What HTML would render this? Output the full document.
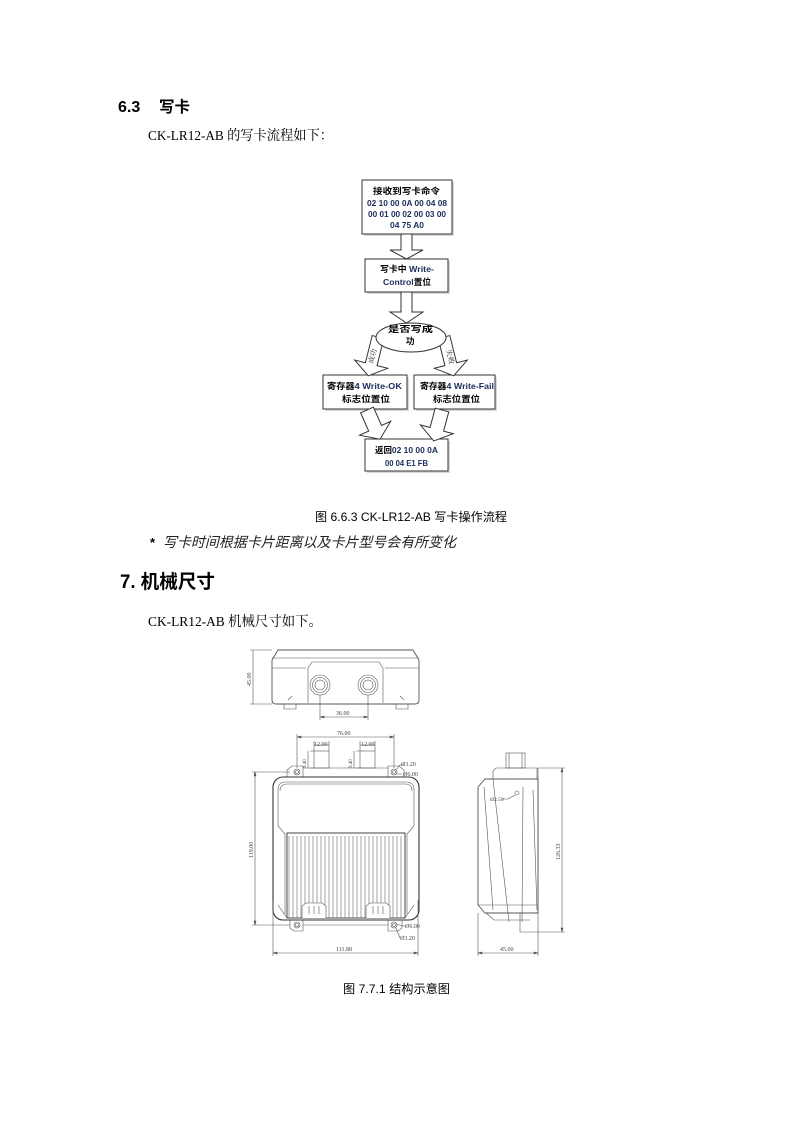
<!DOCTYPE html>
<html><head><meta charset="utf-8"><style>
html,body{margin:0;padding:0;background:#fff;}
svg{display:block;}
</style></head><body>
<svg width="793" height="1122" viewBox="0 0 793 1122" xmlns="http://www.w3.org/2000/svg" font-family="'Liberation Sans','Noto Sans CJK SC',sans-serif">
<!-- Page text -->
<text x="118" y="112" font-size="16" font-weight="bold" fill="#000">6.3</text>
<text x="159" y="112" font-size="15.5" font-weight="bold" fill="#000" textLength="31" lengthAdjust="spacingAndGlyphs">写卡</text>
<text x="148" y="140" font-size="14" fill="#000" font-family="'Liberation Serif','Noto Serif CJK SC',serif" textLength="185" lengthAdjust="spacingAndGlyphs">CK-LR12-AB 的写卡流程如下：</text>

<!-- Flowchart -->
<g stroke="#333" stroke-width="1" fill="#fff">
  <!-- shadows -->
  <g fill="#d8d8d8" stroke="none">
    <rect x="364" y="182" width="90" height="54"/>
    <rect x="367" y="261" width="83" height="33"/>
    <rect x="325" y="377" width="84" height="34"/>
    <rect x="416" y="377" width="81" height="34"/>
    <rect x="367" y="441" width="83" height="32"/>
  </g>
  <rect x="362" y="180" width="90" height="54"/>
  <rect x="365" y="259" width="83" height="33"/>
  <rect x="323" y="375" width="84" height="34"/>
  <rect x="414" y="375" width="81" height="34"/>
  <rect x="365" y="439" width="83" height="32"/>
  <!-- vertical block arrows -->
  <polygon points="401,234 412,234 412,250 423,250 406.5,259 390,250 401,250"/>
  <polygon points="401,292 412,292 412,312 423,312 406.5,323 390,312 401,312"/>
  <!-- diagonal arrows -->
  <g transform="translate(378,337) rotate(14)"><polygon points="-6,0 6,0 6,28 17,28 0,40 -17,28 -6,28"/></g>
  <g transform="translate(444,337) rotate(-14)"><polygon points="-6,0 6,0 6,28 17,28 0,40 -17,28 -6,28"/></g>
  <g transform="translate(367,410) rotate(-24)"><polygon points="-7,0 7,0 7,20 17,20 0,32 -17,20 -7,20"/></g>
  <g transform="translate(442,410) rotate(15)"><polygon points="-7,0 7,0 7,20 17,20 0,32 -17,20 -7,20"/></g>
  <ellipse cx="411" cy="337.5" rx="35" ry="14.5"/>
</g>
<!-- arrow labels -->
<g font-size="7" fill="#222" font-family="'Liberation Serif','Noto Serif CJK SC',serif">
  <text transform="translate(373,364) rotate(-76)" textLength="15" lengthAdjust="spacingAndGlyphs">成功</text>
  <text transform="translate(446,350) rotate(76)" textLength="15" lengthAdjust="spacingAndGlyphs">失败</text>
</g>
<!-- flowchart text -->
<g font-size="8.5" font-weight="bold" fill="#000">
  <text x="373" y="194" textLength="67" lengthAdjust="spacingAndGlyphs">接收到写卡命令</text>
  <text x="367" y="206" fill="#1c2d5c" textLength="80" lengthAdjust="spacingAndGlyphs">02 10 00 0A 00 04 08</text>
  <text x="368" y="217" fill="#1c2d5c" textLength="78" lengthAdjust="spacingAndGlyphs">00 01 00 02 00 03 00</text>
  <text x="390" y="228" fill="#1c2d5c" textLength="34" lengthAdjust="spacingAndGlyphs">04 75 A0</text>
  <text x="380" y="272" textLength="54" lengthAdjust="spacingAndGlyphs">写卡中 <tspan fill="#1c2d5c">Write-</tspan></text>
  <text x="383" y="285" textLength="48" lengthAdjust="spacingAndGlyphs"><tspan fill="#1c2d5c">Control</tspan>置位</text>
  <text x="388" y="332" textLength="45" lengthAdjust="spacingAndGlyphs">是否写成</text>
  <text x="406" y="344">功</text>
  <text x="327" y="389" textLength="75" lengthAdjust="spacingAndGlyphs">寄存器<tspan fill="#1c2d5c">4 Write-OK</tspan></text>
  <text x="342" y="402" textLength="48" lengthAdjust="spacingAndGlyphs">标志位置位</text>
  <text x="420" y="389" textLength="74" lengthAdjust="spacingAndGlyphs">寄存器<tspan fill="#1c2d5c">4 Write-Fail</tspan></text>
  <text x="433" y="402" textLength="47" lengthAdjust="spacingAndGlyphs">标志位置位</text>
  <text x="375" y="453" textLength="63" lengthAdjust="spacingAndGlyphs">返回<tspan fill="#1c2d5c">02 10 00 0A</tspan></text>
  <text x="385" y="466" fill="#1c2d5c" textLength="43" lengthAdjust="spacingAndGlyphs">00 04 E1 FB</text>
</g>

<text x="315" y="521" font-size="12" fill="#000" textLength="192" lengthAdjust="spacingAndGlyphs">图  6.6.3 CK-LR12-AB 写卡操作流程</text>
<text x="150" y="547" font-size="13" font-weight="bold" fill="#000">*</text>
<text x="163" y="547" font-size="14" font-style="italic" fill="#222" textLength="293" lengthAdjust="spacingAndGlyphs">写卡时间根据卡片距离以及卡片型号会有所变化</text>

<text x="120" y="588" font-size="19" font-weight="bold" fill="#000" textLength="95" lengthAdjust="spacingAndGlyphs">7. 机械尺寸</text>
<text x="148" y="626" font-size="14" fill="#000" font-family="'Liberation Serif','Noto Serif CJK SC',serif" textLength="174" lengthAdjust="spacingAndGlyphs">CK-LR12-AB 机械尺寸如下。</text>

<!-- Mechanical drawing -->
<g stroke="#555" stroke-width="0.6" fill="none">
  <!-- TOP VIEW -->
  <path d="M272,700 V660 L278,650 H413 L419,660 V700 Q419,704 415,704 H276 Q272,704 272,700 Z" stroke-width="0.9"/>
  <line x1="272" y1="658" x2="419" y2="658"/>
  <path d="M272,668 H306 M385,668 H419"/>
  <path d="M308,703 V668 L312,662 H379 L383,668 V703"/>
  <path d="M284,704 V709 H296 V704 M396,704 V709 H408 V704"/>
  <path d="M288,700 L292,696 M404,700 L400,696"/>
  <circle cx="320" cy="685" r="10"/><circle cx="320" cy="685" r="7.5"/><circle cx="320" cy="685" r="5"/>
  <circle cx="368" cy="685" r="10"/><circle cx="368" cy="685" r="7.5"/><circle cx="368" cy="685" r="5"/>
  <!-- dim 45 -->
  <path d="M250,650 H272 M250,704 H272 M253,650 V704"/>
  <!-- dim 36 -->
  <path d="M320,695 V720 M368,695 V720 M320,717 H368"/>
  <path d="M320,717 l4,-1 v2 z M368,717 l-4,-1 v2 z" fill="#555"/>

  <!-- FRONT VIEW -->
  <path d="M297,734 V768 M394,734 V768 M297,737 H394"/>
  <path d="M297,737 l4,-1 v2 z M394,737 l-4,-1 v2 z" fill="#555"/>
  <rect x="314" y="751" width="15" height="17"/>
  <rect x="360" y="751" width="15" height="17"/>
  <path d="M314,741 V751 M329,741 V751 M314,745 H329 M360,741 V751 M375,741 V751 M360,745 H375"/>
  <path d="M310,751 H314 M310,768 H314 M308,751 V768 M356,751 H360 M356,768 H360 M354,751 V768"/>
  <path d="M287,777 V770 L292,766 H303 V768 H388 V766 H399 L404,770 V777"/>
  <line x1="303" y1="768" x2="303" y2="777"/><line x1="388" y1="768" x2="388" y2="777"/>
  <circle cx="297" cy="772" r="3"/><circle cx="297" cy="772" r="1.5"/>
  <circle cx="394" cy="772" r="3"/><circle cx="394" cy="772" r="1.5"/>
  <rect x="273" y="777" width="146" height="143" rx="10" stroke-width="1.1" stroke="#333"/>
  <path d="M278,790 Q278,782 286,782 H406 Q414,782 414,790 V826 L407,834 V914 M278,790 V826 L285,834 V914"/>
  <path d="M280,791 Q280,784 287,784 H405 Q412,784 412,791"/>
  <rect x="287" y="833" width="118" height="85" stroke="#333" stroke-width="0.9"/>
  <path d="M289,836V918 M293,836V918 M297,836V918 M301,836V918 M305,836V918 M309,836V918 M313,836V918 M317,836V918 M321,836V918 M325,836V918 M329,836V918 M333,836V918 M337,836V918 M341,836V918 M345,836V918 M349,836V918 M353,836V918 M357,836V918 M361,836V918 M365,836V918 M369,836V918 M373,836V918 M377,836V918 M381,836V918 M385,836V918 M389,836V918 M393,836V918 M397,836V918 M401,836V918" stroke="#666" stroke-width="0.6"/>
  <path d="M302,918 V906 L306,903 H322 L326,906 V918 M366,918 V906 L370,903 H386 L390,906 V918" fill="#fff"/>
  <path d="M309,906 V914 M314,906 V914 M319,906 V914 M373,906 V914 M378,906 V914 M383,906 V914"/>
  <path d="M278,905 L287,918 M414,905 L405,918"/>
  <path d="M290,920 V928 L294,931 H303 V920 M388,920 V931 H398 L402,928 V920"/>
  <line x1="303" y1="925" x2="388" y2="925"/>
  <circle cx="297" cy="925" r="3"/><circle cx="297" cy="925" r="1.5"/>
  <circle cx="394" cy="925" r="3"/><circle cx="394" cy="925" r="1.5"/>
  <path d="M252,772 H290 M252,925 H290 M255,772 V925"/>
  <path d="M255,772 l-1,4 h2 z M255,925 l-1,-4 h2 z" fill="#555"/>
  <path d="M273,900 V956 M418,900 V956 M273,953 H418"/>
  <path d="M273,953 l4,-1 v2 z M418,953 l-4,-1 v2 z" fill="#555"/>
  <path d="M396,770 L400,765 H404 M397,774 H402 M397,924 L402,926 H406 M396,928 L400,938"/>

  <!-- SIDE VIEW -->
  <rect x="506" y="753" width="19" height="15"/>
  <path d="M509,753 V768 M522,753 V768"/>
  <path d="M493,779 V771 L496,768 H537 V779"/>
  <path d="M478,787 L485,779 H538 V913 M478,787 V905 L485,913 H538" stroke-width="0.9"/>
  <path d="M538,768 V932 M520,913 V932 H538 M520,920 H530"/>
  <path d="M493,779 L509,922 M484,787 L493,910 M523,787 L522,922 M533,790 L537,910"/>
  <path d="M478,905 H537 M486,913 L494,920 H520"/>
  <circle cx="517" cy="793" r="2"/>
  <path d="M515,795 L508,799 H502"/>
  <path d="M538,768 H565 M538,932 H565 M562,768 V932"/>
  <path d="M562,768 l-1,4 h2 z M562,932 l-1,-4 h2 z" fill="#555"/>
  <path d="M478,913 V956 M538,932 V956 M478,953 H538"/>
  <path d="M478,953 l4,-1 v2 z M538,953 l-4,-1 v2 z" fill="#555"/>
</g>
<g font-family="'Liberation Serif',serif" font-size="6" fill="#444">
  <text transform="translate(251,686) rotate(-90)">45.00</text>
  <text x="336" y="715">36.00</text>
  <text x="337" y="735">76.00</text>
  <text x="314" y="746">12.00</text>
  <text x="361" y="746">12.00</text>
  <text transform="translate(306,768) rotate(-90)" font-size="5">9.40</text>
  <text transform="translate(352,768) rotate(-90)" font-size="5">9.40</text>
  <text x="401" y="766">Ø3.20</text>
  <text x="403" y="776">Ø6.00</text>
  <text x="405" y="928">Ø6.00</text>
  <text x="400" y="940">Ø3.20</text>
  <text transform="translate(253,858) rotate(-90)">119.00</text>
  <text x="336" y="951">111.88</text>
  <text x="490" y="801" font-size="5.5">Ø2.50</text>
  <text transform="translate(560,860) rotate(-90)">126.33</text>
  <text x="500" y="951">45.00</text>
</g>

<text x="343" y="993" font-size="12" fill="#000" textLength="107" lengthAdjust="spacingAndGlyphs">图  7.7.1 结构示意图</text>
</svg>
</body></html>
